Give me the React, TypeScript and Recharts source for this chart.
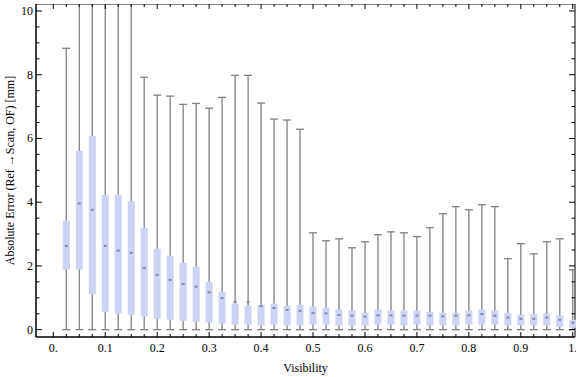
import { ScatterChart, Scatter, XAxis, YAxis, ErrorBar, ReferenceArea } from "recharts";

// box positions (visibility) and box statistics
const visibility = [
  0.025, 0.05, 0.075, 0.1, 0.125, 0.15, 0.175, 0.2, 0.225, 0.25,
  0.275, 0.3, 0.325, 0.35, 0.375, 0.4, 0.425, 0.45, 0.475, 0.5,
  0.525, 0.55, 0.575, 0.6, 0.625, 0.65, 0.675, 0.7, 0.725, 0.75,
  0.775, 0.8, 0.825, 0.85, 0.875, 0.9, 0.925, 0.95, 0.975, 1.0,
];
const minVal = [
  0, 0, 0, 0, 0, 0, 0, 0, 0, 0, 0, 0, 0, 0, 0, 0, 0, 0, 0, 0,
  0, 0, 0, 0, 0, 0, 0, 0, 0, 0, 0, 0, 0, 0, 0, 0, 0, 0, 0, 0,
];
const q1 = [
  1.89, 1.89, 1.11, 0.56, 0.5, 0.47, 0.41, 0.34, 0.31, 0.28,
  0.25, 0.22, 0.19, 0.16, 0.16, 0.13, 0.16, 0.13, 0.13, 0.16,
  0.16, 0.13, 0.13, 0.13, 0.16, 0.16, 0.14, 0.16, 0.14, 0.14,
  0.14, 0.16, 0.16, 0.16, 0.14, 0.14, 0.14, 0.14, 0.09, 0.06,
];
const meanVal = [
  2.63, 3.96, 3.76, 2.63, 2.48, 2.41, 1.94, 1.72, 1.56, 1.43,
  1.35, 1.17, 0.99, 0.87, 0.86, 0.74, 0.68, 0.62, 0.59, 0.52,
  0.51, 0.46, 0.44, 0.41, 0.45, 0.45, 0.44, 0.44, 0.44, 0.42,
  0.44, 0.45, 0.49, 0.44, 0.38, 0.34, 0.34, 0.38, 0.31, 0.22,
];
const q3 = [
  3.42, 5.61, 6.08, 4.23, 4.23, 4.03, 3.19, 2.54, 2.32, 2.1,
  1.97, 1.5, 1.19, 0.82, 0.75, 0.78, 0.82, 0.75, 0.78, 0.72,
  0.69, 0.63, 0.6, 0.53, 0.63, 0.6, 0.6, 0.6, 0.56, 0.53,
  0.53, 0.6, 0.63, 0.6, 0.53, 0.47, 0.5, 0.5, 0.44, 0.31,
];
const maxVal = [
  8.83, 12, 12, 12, 12, 12, 7.92, 7.36, 7.33, 7.07,
  7.1, 6.95, 7.29, 7.98, 7.98, 7.11, 6.61, 6.58, 6.29, 3.04,
  2.79, 2.85, 2.57, 2.76, 2.98, 3.07, 3.04, 2.92, 3.2, 3.64,
  3.86, 3.76, 3.92, 3.86, 2.23, 2.7, 2.38, 2.76, 2.85, 1.88,
];

const xTicks = [
  0, 0.025, 0.05, 0.075, 0.1, 0.125, 0.15, 0.175, 0.2, 0.225, 0.25,
  0.275, 0.3, 0.325, 0.35, 0.375, 0.4, 0.425, 0.45, 0.475, 0.5,
  0.525, 0.55, 0.575, 0.6, 0.625, 0.65, 0.675, 0.7, 0.725, 0.75,
  0.775, 0.8, 0.825, 0.85, 0.875, 0.9, 0.925, 0.95, 0.975, 1,
];
const xMajor = [0, 0.1, 0.2, 0.3, 0.4, 0.5, 0.6, 0.7, 0.8, 0.9, 1];
const xMajorLabels = ["0.", "0.1", "0.2", "0.3", "0.4", "0.5", "0.6", "0.7", "0.8", "0.9", "1."];
const yTicks = [
  0, 0.5, 1, 1.5, 2, 2.5, 3, 3.5, 4, 4.5, 5, 5.5, 6, 6.5, 7, 7.5, 8, 8.5, 9, 9.5, 10,
];
const yMajor = [0, 2, 4, 6, 8, 10];
const yMajorLabels = ["0", "2", "4", "6", "8", "10"];

const data = visibility.map((x, i) => ({
  x,
  lo: minVal[i],
  whisker: [0, maxVal[i] - minVal[i]],
  q1: q1[i],
  box: [0, q3[i] - q1[i]],
  mean: meanVal[i],
}));

const W = 576;
const H = 377;
const margin = { top: 4, right: 1, bottom: 0, left: 0 };
const xAxisH = 40;
const yAxisW = 36;
const plotW = W - margin.left - margin.right - yAxisW;
const plotH = H - margin.top - margin.bottom - xAxisH;

const xDomain = [-0.0333, 1.0043];
const yDomain = [-0.23, 10.22];

const font = "'Liberation Serif', 'Times New Roman', serif";
const whiskerColor = "#808080";
const boxColor = "#ccd3f4";

const majorIndex = (list: number[], v: number) =>
  list.findIndex((m) => Math.abs(m - v) < 1e-6);

const Empty = () => <g />;

// inward ticks like a Mathematica frame, mirrored on the opposite side
function BottomTick(props: any) {
  const x = Number(props.x);
  const y = Number(props.y);
  const i = majorIndex(xMajor, props.payload.value);
  const len = i >= 0 ? 5 : 3;
  return (
    <g>
      <line x1={x} x2={x} y1={y} y2={y - len} stroke="#000" />
      <line x1={x} x2={x} y1={y - plotH} y2={y - plotH + len} stroke="#000" />
      {i >= 0 && (
        <text x={x} y={y + 15} textAnchor="middle" fontSize={12} fontFamily={font} fill="#000">
          {xMajorLabels[i]}
        </text>
      )}
    </g>
  );
}

function LeftTick(props: any) {
  const x = Number(props.x);
  const y = Number(props.y);
  const i = majorIndex(yMajor, props.payload.value);
  const len = i >= 0 ? 6 : 3.5;
  return (
    <g>
      <line x1={x} x2={x + len} y1={y} y2={y} stroke="#000" />
      <line x1={x + plotW} x2={x + plotW - len} y1={y} y2={y} stroke="#000" />
      {i >= 0 && (
        <text x={x - 3} y={y + 4} textAnchor="end" fontSize={12} fontFamily={font} fill="#000">
          {yMajorLabels[i]}
        </text>
      )}
    </g>
  );
}

function MeanMark({ cx, cy }: any) {
  return <rect x={cx - 1.5} y={cy - 1} width={3} height={2} fill="#8a8aa6" />;
}

export default function App() {
  return (
    <div style={{ position: "absolute", left: 0, top: 0, width: W, height: H, background: "#fff" }}>
      <ScatterChart width={W} height={H} margin={margin}>
        <XAxis
          type="number"
          dataKey="x"
          domain={xDomain}
          allowDataOverflow
          ticks={xTicks}
          interval={0}
          height={xAxisH}
          tickLine={false}
          tickSize={0}
          tickMargin={0}
          tick={<BottomTick />}
          axisLine={{ stroke: "#000" }}
          label={{ value: "Visibility", position: "insideBottom", offset: 5, fontSize: 12, fontFamily: font, fill: "#000" }}
        />
        <YAxis
          type="number"
          domain={yDomain}
          allowDataOverflow
          ticks={yTicks}
          interval={0}
          width={yAxisW}
          tickLine={false}
          tickSize={0}
          tickMargin={0}
          tick={<LeftTick />}
          axisLine={{ stroke: "#000" }}
          label={{
            value: "Absolute Error (Ref \u2192Scan, OF) [mm]",
            angle: -90,
            position: "insideLeft",
            offset: 10,
            fontSize: 12,
            fontFamily: font,
            fill: "#000",
            style: { textAnchor: "middle" },
          }}
        />
        <ReferenceArea
          x1={xDomain[0]}
          x2={xDomain[1]}
          y1={yDomain[0]}
          y2={yDomain[1]}
          fill="none"
          stroke="#000"
          strokeOpacity={1}
          ifOverflow="visible"
        />
        <Scatter data={data} dataKey="lo" shape={<Empty />} isAnimationActive={false}>
          <ErrorBar dataKey="whisker" direction="y" width={4} stroke={whiskerColor} strokeWidth={1.3} />
        </Scatter>
        <Scatter data={data} dataKey="q1" shape={<Empty />} isAnimationActive={false}>
          <ErrorBar dataKey="box" direction="y" width={0} stroke={boxColor} strokeWidth={7} />
        </Scatter>
        <Scatter data={data} dataKey="mean" shape={<MeanMark />} isAnimationActive={false} />
      </ScatterChart>
      {/* whiskers running past the top of the frame are cut at the frame */}
      <div style={{ position: "absolute", left: 0, top: 0, width: W, height: margin.top - 0.5, background: "#fff" }} />
    </div>
  );
}
